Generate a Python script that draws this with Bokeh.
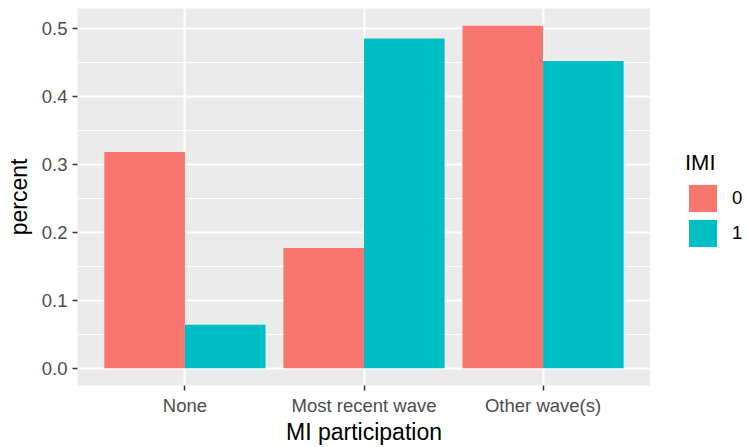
from bokeh.plotting import figure
from bokeh.models import (ColumnDataSource, FactorRange, Range1d, SingleIntervalTicker,
                          NumeralTickFormatter, Legend, LegendItem)
from bokeh.layouts import row
from bokeh.transform import dodge
from bokeh.embed import file_html
from bokeh.resources import INLINE

categories = ["None", "Most recent wave", "Other wave(s)"]
imi_0 = [0.318, 0.177, 0.504]
imi_1 = [0.064, 0.485, 0.452]
series_labels = ["0", "1"]
legend_title = "IMI"
colors = ["#F8766D", "#00BFC4"]

FONT = "Liberation Sans"
H = 447
MAIN_W, LEG_W = 650, 98

src = ColumnDataSource(dict(cat=categories, v0=imi_0, v1=imi_1))

ymax = max(imi_0 + imi_1)
pad = ymax * 0.05
p = figure(width=MAIN_W, height=H, output_backend="svg", toolbar_location=None,
           x_range=FactorRange(factors=categories, range_padding=0.1, range_padding_units="absolute"),
           y_range=Range1d(-pad, ymax + pad),
           min_border_left=77, min_border_right=0, min_border_top=8, min_border_bottom=58)

p.background_fill_color = "#EBEBEB"
p.border_fill_color = "white"
p.outline_line_color = None

r0 = p.vbar(x=dodge("cat", -0.225, range=p.x_range), top="v0", width=0.45, bottom=0,
            source=src, fill_color=colors[0], line_color=None)
r1 = p.vbar(x=dodge("cat", 0.225, range=p.x_range), top="v1", width=0.45, bottom=0,
            source=src, fill_color=colors[1], line_color=None)

# grids
p.xgrid.grid_line_color = "white"
p.xgrid.grid_line_width = 2
p.ygrid.grid_line_color = "white"
p.ygrid.grid_line_width = 2
p.ygrid.minor_grid_line_color = "white"
p.ygrid.minor_grid_line_width = 1
p.ygrid.level = "underlay"
p.xgrid.level = "underlay"

p.yaxis.ticker = SingleIntervalTicker(interval=0.1, num_minor_ticks=2)
p.yaxis.formatter = NumeralTickFormatter(format="0.0")

for ax in (p.xaxis[0], p.yaxis[0]):
    ax.axis_line_color = None
    ax.major_tick_line_color = "#333333"
    ax.major_tick_line_width = 1.5
    ax.major_tick_out = 5
    ax.major_tick_in = 0
    ax.minor_tick_line_color = None
    ax.major_label_text_color = "#4D4D4D"
    ax.major_label_text_font = FONT
    ax.major_label_text_font_size = "18.5px"
    ax.axis_label_text_font = FONT
    ax.axis_label_text_font_size = "23px"
    ax.axis_label_text_font_style = "normal"
    ax.axis_label_text_color = "black"

p.xaxis.axis_label = "MI participation"
p.yaxis.axis_label = "percent"
p.xaxis.major_label_standoff = 4
p.yaxis.major_label_standoff = 5
p.xaxis.axis_label_standoff = 0
p.yaxis.axis_label_standoff = 7

# legend panel (separate figure at the right)
lf = figure(width=LEG_W, height=H, output_backend="svg", toolbar_location=None,
            x_range=Range1d(0, 1), y_range=Range1d(0, 1),
            min_border_left=0, min_border_right=0, min_border_top=0, min_border_bottom=0)
lf.axis.visible = False
lf.grid.visible = False
lf.outline_line_color = None
lf.background_fill_color = "white"
lf.border_fill_color = "white"
key_src = ColumnDataSource(dict(x=[0.5], t=[0.0]))
d0 = lf.vbar(x="x", top="t", bottom="t", width=0.1, source=key_src,
             fill_color=colors[0], line_color=None)
d1 = lf.vbar(x="x", top="t", bottom="t", width=0.1, source=key_src,
             fill_color=colors[1], line_color=None)

legend = Legend(items=[LegendItem(label=series_labels[0], renderers=[d0]),
                       LegendItem(label=series_labels[1], renderers=[d1])],
                title=legend_title, location=(35, 135))
legend.title_text_font = FONT
legend.title_text_font_size = "22px"
legend.title_text_font_style = "normal"
legend.title_text_color = "black"
legend.title_standoff = 5
legend.label_text_font = FONT
legend.label_text_font_size = "18.5px"
legend.label_text_color = "black"
legend.glyph_width = 35
legend.glyph_height = 34
legend.label_height = 34
legend.label_standoff = 12
legend.spacing = 1
legend.padding = 0
legend.margin = 0
legend.border_line_color = None
legend.background_fill_alpha = 0
lf.add_layout(legend, "center")

layout = row(p, lf, spacing=0)
open("out.html", "w").write(file_html(layout, INLINE))
